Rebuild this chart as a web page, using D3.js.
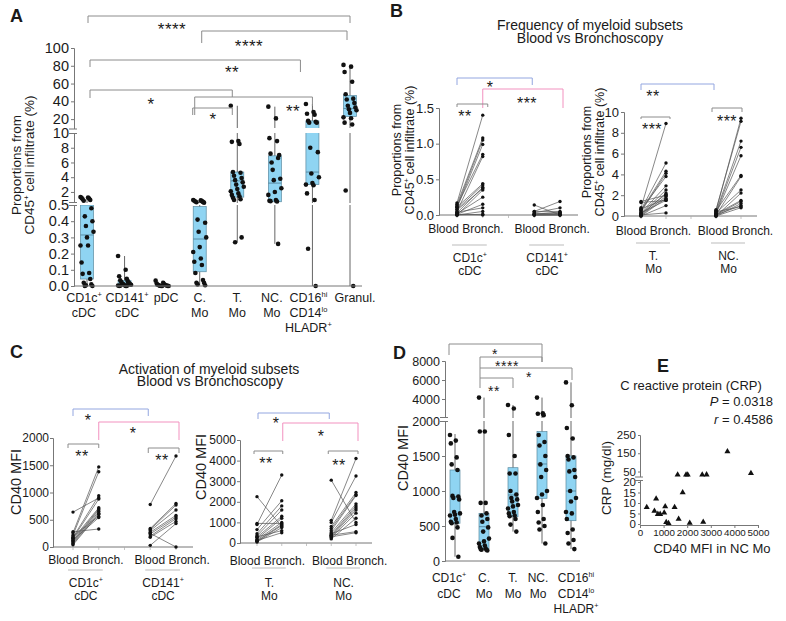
<!DOCTYPE html>
<html><head><meta charset="utf-8">
<script src="https://cdn.jsdelivr.net/npm/d3@7"></script>
<style>
body{margin:0;background:#fff}
svg{display:block}
text{font-family:"Liberation Sans",Arial,Helvetica,sans-serif;fill:#1a1a1a}
</style>
</head><body>
<svg id="chart" width="786" height="621"></svg>
<script>
// ================= DATA =================
// Panel A
const aCategories = ["CD1c^{+}|cDC","CD141^{+}|cDC","pDC","C.|Mo","T.|Mo","NC.|Mo","CD16^{hi}|CD14^{lo}|HLADR^{+}","Granul."];
const aTicks = [0,0.1,0.2,0.3,0.4,0.5,2,4,6,8,10,20,40,60,80,100];
// [min, q1, median, q3, max]
const aBoxStats = [
  [0, 0.043, 0.315, 0.5, 1.3],
  [0, 0, 0.01, 0.033, 0.185],
  [0, 0, 0.004, 0.01, 0.033],
  [0.005, 0.088, 0.29, 0.49, 0.9],
  [0.27, 1.3, 3.5, 4.7, 35],
  [0.26, 0.67, 3.2, 6.9, 34],
  [0, 3.0, 4.7, 18, 37],
  [0, 23, 32, 46.5, 81]
];
const aPoints = [
  [1.3,1.25,1.2,1.1,1.0,0.9,0.8,0.48,0.43,0.40,0.37,0.335,0.30,0.25,0.25,0.145,0.08,0.075,0.043,0.02,0.01,0.0,0.0,0.005],
  [0.185,0.10,0.06,0.045,0.035,0.03,0.025,0.02,0.015,0.012,0.01,0.008,0.005,0.003,0.0,0.0,0.0,0.002,0.006],
  [0.033,0.02,0.015,0.01,0.008,0.006,0.004,0.003,0.002,0.001,0.0,0.0,0.0],
  [0.9,0.85,0.8,0.75,0.7,0.65,0.6,0.55,0.41,0.39,0.335,0.30,0.24,0.21,0.17,0.15,0.13,0.08,0.037,0.02,0.02,0.01,0.005],
  [35,8.9,8.8,8.5,4.7,4.6,4.2,3.9,3.6,3.3,3.0,2.7,2.4,2.1,1.8,1.6,1.4,1.2,1.0,0.9,0.30,0.27],
  [34,20.8,9.3,8.9,7.2,6.6,6.0,7.0,5.0,3.8,3.6,2.5,2.0,1.6,0.9,0.8,0.7,0.75,0.26],
  [37,28,26,25,18,17,16,16,8.0,7.4,4.5,4.0,3.2,3.0,2.9,1.8,0.9,0.23,0],
  [81,79,73,62,48,43,42,38,35,33,31,30,27,22,21,16,14,2.2,0]
];

// Panel B (paired, proportions %)
const bGroupsLeft = ["CD1c^{+}|cDC","CD141^{+}|cDC"];
const bGroupsRight = ["T.|Mo","NC.|Mo"];
const bTicksLeft = [0,0.5,1.0,1.5];
const bTicksRight = [0,2,4,6,8,10];
const bCD1cBlood  = [0.17,0.15,0.12,0.10,0.13,0.05,0.11,0.08,0.03,0.07,0.00,0.02,0.01,0.04,0.00,0.01,0.00];
const bCD1cBronch = [1.40,1.08,1.05,0.99,0.85,0.82,0.44,0.42,0.39,0.37,0.35,0.25,0.15,0.10,0.05,0.00,0.01];
const bCD141Blood  = [0.14,0.05,0.05,0.03,0.02,0.01,0.00,0.00,0.01,0.00];
const bCD141Bronch = [0.00,0.19,0.05,0.10,0.03,0.02,0.01,0.00,0.04,0.00];
const bTMoBlood  = [1.4,1.3,0.8,0.6,0.5,0.4,0.6,0.3,0.2,0.1,0.05,0.0,0.3,0.0,0.1,0.7,0.2];
const bTMoBronch = [2.0,1.5,8.9,5.1,4.3,4.1,3.8,2.9,2.5,2.2,1.9,1.7,1.5,1.0,0.3,1.6,2.1];
const bNCMoBlood  = [0.5,0.6,0.4,0.3,0.2,0.5,0.1,0.3,0.0,0.2,0.1,0.0,0.4,0.0,0.1];
const bNCMoBronch = [9.4,9.1,7.2,6.6,5.8,3.9,3.8,2.5,2.2,1.5,1.4,1.2,0.9,0.8,1.0];

// Panel C (paired, CD40 MFI)
const cTicksLeft = [0,500,1000,1500,2000];
const cTicksRight = [0,1000,2000,3000,4000,5000];
const cCD1cBlood  = [640,280,260,220,180,160,150,120,100,80,60,40,200,130];
const cCD1cBronch = [900,330,1470,1380,940,880,720,700,680,650,620,600,560,540];
const cCD141Blood  = [780,340,320,300,270,240,200,180,250,30];
const cCD141Bronch = [1670,800,770,680,580,550,520,470,0,430];
const cTMoBlood  = [2250,950,900,650,450,350,280,200,150,100,80,50,300,120];
const cTMoBronch = [800,950,3300,2050,1800,1600,1300,1200,1000,900,850,750,600,500];
const cNCMoBlood  = [3050,1100,1000,800,700,600,500,400,350,300,250,200,450,380,300];
const cNCMoBronch = [1000,4100,3250,2450,2350,2300,1900,1800,1700,1600,1450,1200,900,550,500];

// Panel D
const dCategories = ["CD1c^{+}|cDC","C.|Mo","T.|Mo","NC.|Mo","CD16^{hi}|CD14^{lo}|HLADR^{+}"];
const dTicks = [0,500,1000,1500,2000,4000,6000,8000];
const dBoxStats = [
  [61, 539, 919, 1300, 1814],
  [150, 170, 490, 681, 4150],
  [420, 633, 943, 1333, 3368],
  [250, 896, 1386, 1848, 4150],
  [170, 576, 1000, 1500, 5750]
];
const dPoints = [
  [1800,1720,1680,1480,1380,1300,930,920,900,880,700,680,660,650,600,560,550,540,480,330,60],
  [4150,1850,1850,830,830,680,650,600,560,480,420,320,280,250,220,200,180,170,160,160,150],
  [3368,3000,1800,1500,1250,1250,1000,950,900,880,850,800,780,750,700,680,650,640,600,520,420],
  [4150,2500,2450,2300,1800,1700,1650,1500,1380,1300,1200,1000,950,900,800,700,600,550,500,450,250],
  [5750,3350,1900,1750,1500,1480,1450,1300,1280,1200,1000,900,850,700,680,600,450,400,300,250,170]
];

// Panel E
const eXTicks = [0,1000,2000,3000,4000,5000];
const eYTicks = [0,5,10,15,20,50,150,250];
const eMFI = [286,611,684,756,855,1068,1026,1111,1209,1466,1594,1637,1808,1953,2021,2107,2637,2679,2821,3705,4701];
const eCRP = [8,6.2,12,4.7,4.7,8.3,5.3,0.8,0.3,8,32,2.4,15,32,32,0.5,32,1,33,160,40];

// ================= HELPERS =================
const svg = d3.select("#chart");
svg.append("rect").attr("width",786).attr("height",621).attr("fill","#fff");
const FONT = '"Liberation Sans",Arial,Helvetica,sans-serif';
const AX = "#777";
const BOXFILL = "#8fd4f2";
const BLUE = "#93a6e0", PINK = "#f291bf", GRAY = "#8c8c8c";

function richText(g, x, y, s, size, anchor="middle", extra={}) {
  const t = g.append("text").attr("x",x).attr("y",y).attr("font-size",size).attr("text-anchor",anchor);
  for (const k in extra) t.attr(k, extra[k]);
  const parts = s.split(/(\^\{[^}]*\})/).filter(p=>p.length);
  const shift = size*0.4;
  let raised = false;
  parts.forEach(p=>{
    if (p.startsWith("^{")) {
      t.append("tspan").attr("dy",-shift).attr("font-size",(size*0.6)+"px").text(p.slice(2,-1));
      raised = true;
    } else {
      const ts = t.append("tspan").text(p);
      if (raised) { ts.attr("dy",shift); raised = false; }
    }
  });
  return t;
}
function multiLabel(g, x, y, s, size, lh) {
  s.split("|").forEach((line,i)=> richText(g, x, y+i*lh, line, size));
}
function yAxis(g, scale, x, ticks, fmt, size, tsize=3, pad=2) {
  const ax = g.append("g").attr("transform",`translate(${x},0)`)
    .call(d3.axisLeft(scale).tickValues(ticks).tickFormat(fmt).tickSizeOuter(0).tickSize(tsize).tickPadding(pad));
  ax.attr("font-family",FONT).attr("font-size",size);
  ax.selectAll("path,line").attr("stroke",AX);
  ax.selectAll("text").attr("fill","#1a1a1a");
  return ax;
}
function axisBreak(g, x, y1, y2) {
  g.append("rect").attr("x",x-4).attr("y",y2).attr("width",8).attr("height",y1-y2).attr("fill","#fff");
  g.append("line").attr("x1",x-5).attr("x2",x+3).attr("y1",y1).attr("y2",y1).attr("stroke",AX);
  g.append("line").attr("x1",x-5).attr("x2",x+3).attr("y1",y2).attr("y2",y2).attr("stroke",AX);
}
function bracket(g, x1, x2, y, e1, e2, color) {
  g.append("path").attr("d",`M${x1},${e1}V${y}H${x2}V${e2}`)
    .attr("fill","none").attr("stroke",color).attr("stroke-width",1);
}
function stars(g, x, yc, s, size=16) {
  g.append("text").attr("x",x).attr("y",yc+0.58*size).attr("text-anchor","middle")
    .attr("font-size",size).attr("letter-spacing","0.5px").attr("fill","#333").text(s);
}
function yLabel(g, x, yc, s, size) {
  richText(g, 0, 0, s, size, "middle", {transform:`translate(${x},${yc}) rotate(-90)`});
}
function jitter(i, w) { return (((i*7)%13) - 6) / 6 * w; }

function boxPanel(g, cats, stats, pts, xs, ys, bw, r, breaks) {
  cats.forEach((c,i)=>{
    const cx = xs(c), s = stats[i];
    g.append("line").attr("x1",cx).attr("x2",cx).attr("y1",ys(s[0])).attr("y2",ys(s[4]))
      .attr("stroke","#666").attr("stroke-width",1);
    g.append("rect").attr("x",cx-bw/2).attr("width",bw).attr("y",ys(s[3])).attr("height",Math.max(0.5,ys(s[1])-ys(s[3])))
      .attr("fill",BOXFILL).attr("stroke","#5a8aa0").attr("stroke-width",0.7);
    g.append("line").attr("x1",cx-bw/2).attr("x2",cx+bw/2).attr("y1",ys(s[2])).attr("y2",ys(s[2]))
      .attr("stroke","#4d7a90").attr("stroke-width",0.8);
  });
  breaks.forEach(b=> g.append("rect").attr("x",b[0]).attr("width",b[1]-b[0]).attr("y",b[3]).attr("height",b[2]-b[3]).attr("fill","#fff"));
  cats.forEach((c,i)=>{
    const cx = xs(c);
    g.selectAll(null).data(pts[i]).join("circle")
      .attr("cx",(d,j)=>cx+jitter(j, bw/2))
      .attr("cy",d=>ys(d)).attr("r",r).attr("fill","#111");
  });
}

function pairedPanel(g, xs, ys, groups, r) {
  groups.forEach(gr=>{
    const x0 = xs(gr.i0), x1 = xs(gr.i0+1);
    gr.blood.forEach((b,k)=>{
      g.append("line").attr("x1",x0).attr("x2",x1).attr("y1",ys(b)).attr("y2",ys(gr.bronch[k]))
        .attr("stroke","#555").attr("stroke-width",0.7);
    });
    g.selectAll(null).data(gr.blood).join("circle").attr("cx",x0).attr("cy",d=>ys(d)).attr("r",r).attr("fill","#111");
    g.selectAll(null).data(gr.bronch).join("circle").attr("cx",x1).attr("cy",d=>ys(d)).attr("r",r).attr("fill","#111");
  });
}
function pairedXAxis(g, xs, y, xStart, xEnd, labY, ulY, grpY, groups, labOff) {
  g.append("line").attr("x1",xStart).attr("x2",xEnd).attr("y1",y).attr("y2",y).attr("stroke",AX);
  [0,1,2,3,4].forEach(i=> g.append("line").attr("x1",xs(i)).attr("x2",xs(i)).attr("y1",y).attr("y2",y+3).attr("stroke","#aaa").attr("stroke-width",0.7));
  groups.forEach((lab,gi)=>{
    const i0 = gi*3, cx = (xs(i0)+xs(i0+1))/2;
    g.append("text").attr("x",cx+labOff[gi]).attr("y",labY).attr("text-anchor","middle").attr("font-size",12).text("Blood Bronch.");
    g.append("line").attr("x1",xs(i0)-5).attr("x2",xs(i0+1)+4).attr("y1",ulY).attr("y2",ulY).attr("stroke","#bbb").attr("stroke-width",1.2);
    multiLabel(g, cx, grpY, lab, 12, 13);
  });
}

// ================= PANEL A =================
const gA = svg.append("g");
gA.append("text").attr("x",10).attr("y",22).attr("font-size",18).attr("font-weight","bold").text("A");
const aX = d3.scalePoint().domain(aCategories).range([87,350]);
const aY = d3.scaleLinear().domain([0,0.5,0.50001,10,10.0001,100]).range([286,205,203,133,128,48]);
boxPanel(gA, aCategories, aBoxStats, aPoints, aX, aY, 13, 2.3, [[76,362,205,203],[76,362,133,128]]);
yAxis(gA, aY, 74, aTicks, v=> v<1 ? d3.format(".1f")(v) : d3.format("d")(v), 14.5);
axisBreak(gA, 74, 205.5, 202.5);
axisBreak(gA, 74, 133.5, 129);
gA.append("line").attr("x1",74).attr("x2",362).attr("y1",286).attr("y2",286).attr("stroke",AX);
const aLabOff = [-3,2.5,4,0,0,-3,-4,5];
aCategories.forEach((c,i)=> multiLabel(gA, aX(c)+aLabOff[i], 302, c, 12.5, 15));
yLabel(gA, 21, 165, "Proportions from", 13.5);
yLabel(gA, 34, 165, "CD45^{+} cell infiltrate (%)", 13.5);
// brackets A
bracket(gA, aX(aCategories[0])+1, aX(aCategories[7]), 16, 23, 23, GRAY); stars(gA, 172, 25, "****", 17);
bracket(gA, aX(aCategories[3])+2, aX(aCategories[7])-3, 31, 43, 40, GRAY); stars(gA, 249, 42, "****", 17);
bracket(gA, aX(aCategories[0])+3, aX(aCategories[6])-12, 60, 67, 72, GRAY); stars(gA, 232, 68, "**", 17);
bracket(gA, aX(aCategories[0])+3, aX(aCategories[4])-5, 90, 98, 97, GRAY); stars(gA, 151, 100, "*", 17);
bracket(gA, aX(aCategories[3])-5, aX(aCategories[6]), 97, 115, 106, GRAY); stars(gA, 293, 107, "**", 17);
bracket(gA, aX(aCategories[3])-7, aX(aCategories[4])-5, 108, 115, 115, GRAY); stars(gA, 213, 115, "*", 17);

// ================= PANEL B =================
const gB = svg.append("g");
gB.append("text").attr("x",390).attr("y",17).attr("font-size",18).attr("font-weight","bold").text("B");
gB.append("text").attr("x",590).attr("y",30).attr("text-anchor","middle").attr("font-size",14).text("Frequency of myeloid subsets");
gB.append("text").attr("x",590).attr("y",43).attr("text-anchor","middle").attr("font-size",14).text("Blood vs Bronchoscopy");
// left
const bX1 = d3.scaleLinear().domain([0,4]).range([457,560]);
const bY1 = d3.scaleLinear().domain([0,1.5]).range([215,108]);
yAxis(gB, bY1, 439, bTicksLeft, d3.format(".1f"), 13);
pairedXAxis(gB, bX1, 215, 439, 578, 233, 245, 262, bGroupsLeft, [-4,5]);
pairedPanel(gB, bX1, bY1, [{i0:0, blood:bCD1cBlood, bronch:bCD1cBronch},{i0:3, blood:bCD141Blood, bronch:bCD141Bronch}], 1.7);
yLabel(gB, 401, 150, "Proportions from", 12.5);
yLabel(gB, 414, 150, "CD45^{+} cell infiltrate (%)", 12.5);
bracket(gB, bX1(0), bX1(3)-2, 78, 85, 85, BLUE); stars(gB, 490, 84, "*", 16);
bracket(gB, bX1(1), bX1(4)+3, 89, 108, 108, PINK); stars(gB, 527, 100, "***", 16);
bracket(gB, bX1(0), bX1(1)+5, 104, 107, 107, GRAY); stars(gB, 465, 113, "**", 16);
// right
const bX2 = d3.scaleLinear().domain([0,4]).range([641,741]);
const bY2 = d3.scaleLinear().domain([0,10]).range([216,112]);
yAxis(gB, bY2, 624, bTicksRight, d3.format("d"), 13);
pairedXAxis(gB, bX2, 216, 624, 757, 235, 243, 260, bGroupsRight, [0,7]);
pairedPanel(gB, bX2, bY2, [{i0:0, blood:bTMoBlood, bronch:bTMoBronch},{i0:3, blood:bNCMoBlood, bronch:bNCMoBronch}], 1.7);
yLabel(gB, 591, 152, "Proportions from", 12.5);
yLabel(gB, 604, 152, "CD45^{+} cell infiltrate (%)", 12.5);
bracket(gB, bX2(0), bX2(3)-2, 84, 90, 90, BLUE); stars(gB, 653, 93, "**", 16);
bracket(gB, bX2(0), bX2(1)+4, 117, 119, 119, GRAY); stars(gB, 652, 126, "***", 16);
bracket(gB, bX2(3)-4, bX2(4)+1, 108, 112, 112, GRAY); stars(gB, 727, 118, "***", 16);

// ================= PANEL C =================
const gC = svg.append("g");
gC.append("text").attr("x",10).attr("y",358).attr("font-size",18).attr("font-weight","bold").text("C");
gC.append("text").attr("x",209).attr("y",374).attr("text-anchor","middle").attr("font-size",14).text("Activation of myeloid subsets");
gC.append("text").attr("x",210).attr("y",386).attr("text-anchor","middle").attr("font-size",14).text("Blood vs Bronchoscopy");
const cX1 = d3.scaleLinear().domain([0,4]).range([73,176]);
const cY1 = d3.scaleLinear().domain([0,2000]).range([547,438]);
yAxis(gC, cY1, 53, cTicksLeft, d3.format("d"), 12, 3, 1);
pairedXAxis(gC, cX1, 547, 53, 193, 564, 570, 587, bGroupsLeft, [0,9]);
pairedPanel(gC, cX1, cY1, [{i0:0, blood:cCD1cBlood, bronch:cCD1cBronch},{i0:3, blood:cCD141Blood, bronch:cCD141Bronch}], 1.7);
yLabel(gC, 21, 482, "CD40 MFI", 14.5);
bracket(gC, cX1(0), cX1(3)-2, 409, 416, 416, BLUE); stars(gC, 88, 417, "*", 16);
bracket(gC, cX1(1), cX1(4)+3, 422, 440, 440, PINK); stars(gC, 133, 430, "*", 16);
bracket(gC, cX1(0)-5, cX1(1), 444, 448, 448, GRAY); stars(gC, 82, 453, "**", 16);
bracket(gC, cX1(3)-2, cX1(4)+3, 448, 453, 453, GRAY); stars(gC, 162, 457, "**", 16);

const cX2 = d3.scaleLinear().domain([0,4]).range([257,356]);
const cY2 = d3.scaleLinear().domain([0,5000]).range([543,440]);
yAxis(gC, cY2, 240, cTicksRight, d3.format("d"), 12, 3, 1);
pairedXAxis(gC, cX2, 543, 240, 372, 565, 568, 587, bGroupsRight, [-2,6]);
pairedPanel(gC, cX2, cY2, [{i0:0, blood:cTMoBlood, bronch:cTMoBronch},{i0:3, blood:cNCMoBlood, bronch:cNCMoBronch}], 1.7);
yLabel(gC, 206, 467, "CD40 MFI", 14.5);
bracket(gC, cX2(0)+1, cX2(3)-2, 413, 419, 419, BLUE); stars(gC, 276, 420, "*", 16);
bracket(gC, cX2(1)+1, cX2(4)+2, 423, 441, 441, PINK); stars(gC, 321, 433, "*", 16);
bracket(gC, cX2(0)-3, cX2(1)+1, 451, 454, 454, GRAY); stars(gC, 266, 460, "**", 16);
bracket(gC, cX2(3)-3, cX2(4)+2, 451, 454, 454, GRAY); stars(gC, 339, 462, "**", 16);

// ================= PANEL D =================
const gD = svg.append("g");
gD.append("text").attr("x",393).attr("y",359).attr("font-size",18).attr("font-weight","bold").text("D");
const dX = d3.scalePoint().domain(dCategories).range([455,571]);
const dY = d3.scaleLinear().domain([0,2000,2000.001,8000]).range([561,421,418,361]);
boxPanel(gD, dCategories, dBoxStats, dPoints, dX, dY, 10, 2.3, [[447,580,421,418]]);
yAxis(gD, dY, 445, dTicks, d3.format("d"), 12.5);
axisBreak(gD, 445, 421.5, 417.5);
gD.append("line").attr("x1",445).attr("x2",580).attr("y1",561).attr("y2",561).attr("stroke",AX);
const dLabOff = [-6,0,0,-4,5];
dCategories.forEach((c,i)=> multiLabel(gD, dX(c)+dLabOff[i], 582, c, 12, 15.5));
yLabel(gD, 408, 458, "CD40 MFI", 14.5);
bracket(gD, dX(dCategories[0])-6, dX(dCategories[3]), 344, 355, 362, GRAY); stars(gD, 495, 351, "*", 14);
bracket(gD, dX(dCategories[1])-4, dX(dCategories[3]), 357, 388, 362, GRAY); stars(gD, 507, 363, "****", 14);
bracket(gD, dX(dCategories[1])-4, dX(dCategories[4])+1, 368, 368, 380, GRAY); stars(gD, 529, 374, "*", 14);
bracket(gD, dX(dCategories[1])-4, dX(dCategories[2]), 378, 378, 388, GRAY); stars(gD, 494, 388, "**", 14);

// ================= PANEL E =================
const gE = svg.append("g");
gE.append("text").attr("x",657).attr("y",372).attr("font-size",18).attr("font-weight","bold").text("E");
gE.append("text").attr("x",691).attr("y",390).attr("text-anchor","middle").attr("font-size",13).text("C reactive protein (CRP)");
const pT = gE.append("text").attr("x",773).attr("y",406).attr("text-anchor","end").attr("font-size",13);
pT.append("tspan").attr("font-style","italic").text("P"); pT.append("tspan").text(" = 0.0318");
const rT = gE.append("text").attr("x",773).attr("y",424).attr("text-anchor","end").attr("font-size",13);
rT.append("tspan").attr("font-style","italic").text("r"); rT.append("tspan").text(" = 0.4586");
const eX = d3.scaleLinear().domain([0,5000]).range([640,758]);
const eY = d3.scaleLinear().domain([0,20,20.001,250]).range([524,482,477,435]);
yAxis(gE, eY, 640, eYTicks, d3.format("d"), 11.5, 2, 2);
axisBreak(gE, 640, 480.5, 477);
const exAx = gE.append("g").attr("transform","translate(0,525)")
  .call(d3.axisBottom(eX).tickValues(eXTicks).tickFormat(d3.format("d")).tickSizeOuter(0).tickSize(3).tickPadding(1));
exAx.attr("font-family",FONT).attr("font-size",9.8);
exAx.selectAll("path,line").attr("stroke",AX);
exAx.selectAll("text").attr("fill","#1a1a1a");
gE.selectAll(null).data(eMFI).join("path")
  .attr("d", d3.symbol(d3.symbolTriangle, 16))
  .attr("transform",(d,i)=>`translate(${eX(d)},${eY(eCRP[i])})`).attr("fill","#111");
yLabel(gE, 611, 478, "CRP (mg/dl)", 13.5);
gE.append("text").attr("x",712).attr("y",553).attr("text-anchor","middle").attr("font-size",13).text("CD40 MFI in NC Mo");
</script>
</body></html>
